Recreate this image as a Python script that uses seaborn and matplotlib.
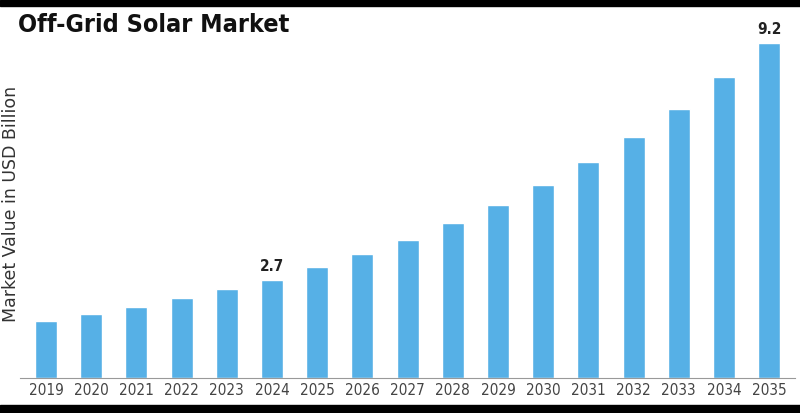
import pandas as pd
import matplotlib.pyplot as plt
import seaborn as sns
from matplotlib.patches import Rectangle

# Market values (USD billion)
years = ['2019', '2020', '2021', '2022', '2023', '2024', '2025', '2026', '2027',
         '2028', '2029', '2030', '2031', '2032', '2033', '2034', '2035']
values = [1.57, 1.76, 1.95, 2.2, 2.45, 2.7, 3.05, 3.41, 3.79,
          4.26, 4.75, 5.3, 5.93, 6.62, 7.39, 8.27, 9.2]
labelled_years = ['2024', '2035']

df = pd.DataFrame({'Year': years, 'Value': values})

sns.set_style('white')
plt.rcParams['font.family'] = ['DejaVu Sans']
plt.rcParams['font.stretch'] = 'condensed'

fig = plt.figure(figsize=(8, 4.13), dpi=100)
ax = fig.add_axes([0.025, 0.085, 0.969, 0.842])

sns.barplot(data=df, x='Year', y='Value', color='#56B0E6', width=0.49,
            saturation=1, ax=ax)

for i, (yr, v) in enumerate(zip(years, values)):
    if yr in labelled_years:
        ax.text(i, v + 0.16, f'{v:.1f}', ha='center', va='bottom',
                fontsize=11, fontweight='bold', color='#222222')

ax.set_xlim(-0.575, 16.575)
ax.set_ylim(0, 9.56)
ax.set_yticks([])
ax.set_xlabel('')
ax.set_ylabel('Market Value in USD Billion', fontsize=12.5, color='#333333',
              fontstretch='normal', labelpad=0)
ax.tick_params(axis='x', labelsize=11, colors='#444444', length=0, pad=4)
sns.despine(ax=ax, left=True)
ax.spines['bottom'].set_color('#999999')

fig.text(0.023, 0.94, 'Off-Grid Solar Market', fontsize=18, fontweight='bold',
         color='#111111', va='center', ha='left')

# black frame bands at top and bottom
fig.patches.append(Rectangle((0, 0.985), 1, 0.015, transform=fig.transFigure,
                             color='black', zorder=10))
fig.patches.append(Rectangle((0, 0), 1, 0.0195, transform=fig.transFigure,
                             color='black', zorder=10))

plt.savefig('out.png', dpi=100)
